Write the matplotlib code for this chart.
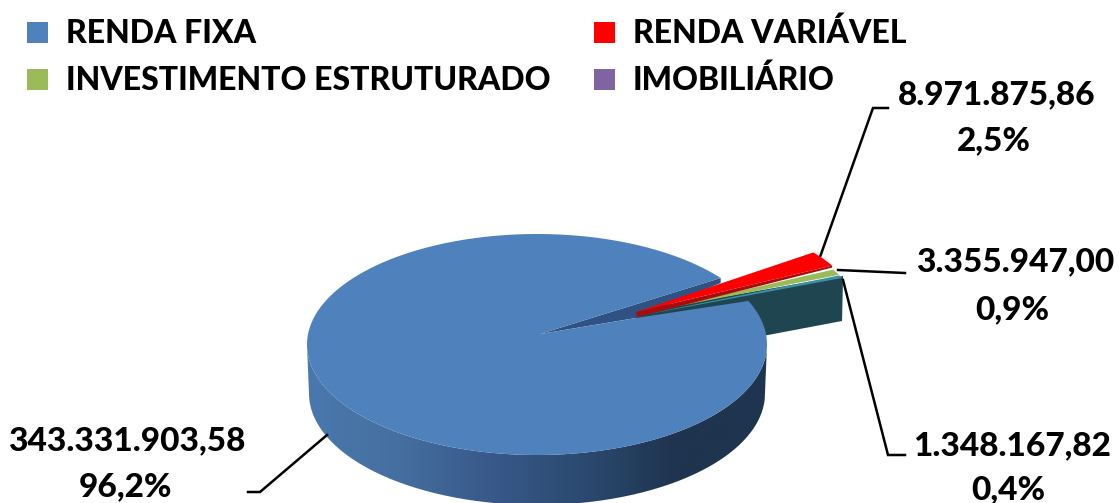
import numpy as np
import matplotlib
matplotlib.use('Agg')
import matplotlib.pyplot as plt
from matplotlib.colors import LinearSegmentedColormap
from matplotlib.patches import PathPatch, Polygon, Rectangle
from matplotlib.path import Path

plt.rcParams['font.family'] = ['Lato', 'DejaVu Sans']

# values of the chart
legend_names = ['RENDA FIXA', 'RENDA VARIÁVEL', 'INVESTIMENTO ESTRUTURADO', 'IMOBILIÁRIO']
legend_colors = ['#4f81bd', '#ff0000', '#9bbb59', '#8064a2']
slice_values = [343331903.58, 8971875.86, 3355947.00, 1348167.82]
value_labels = ['343.331.903,58', '8.971.875,86', '3.355.947,00', '1.348.167,82']
percent_labels = ['96,2%', '2,5%', '0,9%', '0,4%']

text_size = 23
label_size = 24
text_weight = 'black'


def arc(cx, cy, a, b, start, end, n=200):
    t = np.radians(np.linspace(start, end, n))
    return np.column_stack([cx + a * np.cos(t), cy - b * np.sin(t)])


def corner(cx, cy, a, b, ang):
    t = np.radians(ang)
    return np.array([cx + a * np.cos(t), cy - b * np.sin(t)])


def main():
    fig = plt.figure(figsize=(11.19, 5.03), dpi=100)
    ax = fig.add_axes([0, 0, 1, 1])

    # angles of the slices, clockwise from the top of the gap
    total = sum(slice_values)
    sweep = [v / total * 360 for v in slice_values]
    gap_top = 37.0
    red_end = gap_top - sweep[1]
    green_end = red_end - sweep[2]
    teal_end = green_end - sweep[3]

    # big slice
    bx, by, ba, bb = 537, 344.5, 230, 110.5
    tip = np.array([540, 334])
    depth = 49

    # small slices, pulled out of the pie
    sx, sy, sa, sb = 636, 312, 222, 99
    apex = np.array([sx, sy])

    # dark cut face behind the small slices
    outer = corner(sx, sy, sa, sb, teal_end)
    face = [apex, outer + [3, 3], outer + [2, 48], apex + [0, 48]]
    ax.add_patch(Polygon(face, closed=True, fc='#1f4650', ec='none', zorder=1))

    # side of the big slice with the light gradient
    front = arc(bx, by, ba, bb, 180, 360)
    back = arc(bx, by + depth, ba - 2, bb + 1, 360, 180)
    side = np.vstack([front, back])
    cmap = LinearSegmentedColormap.from_list(
        'side', ['#4a78ae', '#456f9f', '#38598a', '#2b4a70', '#1f3450', '#20344f'])
    grad = np.linspace(0, 1, 256).reshape(1, -1)
    im = ax.imshow(grad, cmap=cmap, extent=[bx - ba, bx + ba, 520, 330], aspect='auto', zorder=2)
    clip = PathPatch(Path(side, closed=False), fc='none', ec='none', transform=ax.transData)
    ax.add_patch(clip)
    im.set_clip_path(clip)

    # notch wall, then the top of the big slice
    wall_end = corner(bx, by, ba, bb, gap_top)
    wall = [tip, wall_end, wall_end + [0, 5], apex + [0, 6]]
    ax.add_patch(Polygon(wall, closed=True, fc='#2f5283', ec='none', zorder=3))
    top = np.vstack([[tip], arc(bx, by, ba, bb, gap_top, teal_end + 360, 500), [apex + [0, 6]]])
    ax.add_patch(Polygon(top, closed=True, fc='#4f81bd', ec='none', zorder=4))

    # the three small slices
    ax.add_patch(Polygon(np.vstack([[apex], arc(sx, sy, sa, sb, gap_top, red_end)]),
                         closed=True, fc='#ff0000', ec='none', zorder=6))
    ax.add_patch(Polygon(np.vstack([[apex + [2, 2]], arc(sx + 1, sy + 4, sa, sb, red_end, green_end)]),
                         closed=True, fc='#9bbb59', ec='none', zorder=6))
    ax.add_patch(Polygon(np.vstack([[apex + [2, 4]], arc(sx + 2, sy + 5, sa, sb, green_end + 0.3, teal_end)]),
                         closed=True, fc='#3d8fa5', ec='none', zorder=6))
    red_corner = corner(sx, sy, sa, sb, red_end)
    band = [apex, red_corner, red_corner + [0, 2], apex + [1, 5]]
    ax.add_patch(Polygon(band, closed=True, fc='#a80c0c', ec='none', zorder=7))

    # legend
    legend_x = [27, 594]
    legend_y = [22, 69]
    for i, name in enumerate(legend_names):
        x = legend_x[i % 2]
        y = legend_y[i // 2]
        ax.add_patch(Rectangle((x, y), 21, 21, fc=legend_colors[i], ec='none', zorder=8))
        ax.text(x + 39, y + 11, name, fontsize=text_size, fontweight=text_weight, color='black',
                ha='left', va='center', zorder=9)

    # leader lines
    leaders = [
        ([327, 260, 248], [435, 492, 492]),
        ([820, 873, 888], [257, 108, 108]),
        ([838, 905], [270, 273]),
        ([843, 888, 905], [280, 455, 455]),
    ]
    for xs, ys in leaders:
        ax.plot(xs, ys, color='black', lw=1.8, solid_joinstyle='miter', zorder=5)

    # data labels
    label_x = [127, 997, 1015, 1012]
    label_y = [441, 95, 262, 446]
    percent_x = [125, 994, 1012, 1008]
    percent_y = [487, 141, 310, 490]
    for i in range(len(value_labels)):
        ax.text(label_x[i], label_y[i], value_labels[i], fontsize=label_size, fontweight=text_weight,
                ha='center', va='center', zorder=9)
        ax.text(percent_x[i], percent_y[i], percent_labels[i], fontsize=label_size, fontweight=text_weight,
                ha='center', va='center', zorder=9)

    ax.set_xlim(0, 1119)
    ax.set_ylim(503, 0)
    ax.axis('off')
    fig.savefig('out.png', dpi=100)


if __name__ == "__main__":
    main()
